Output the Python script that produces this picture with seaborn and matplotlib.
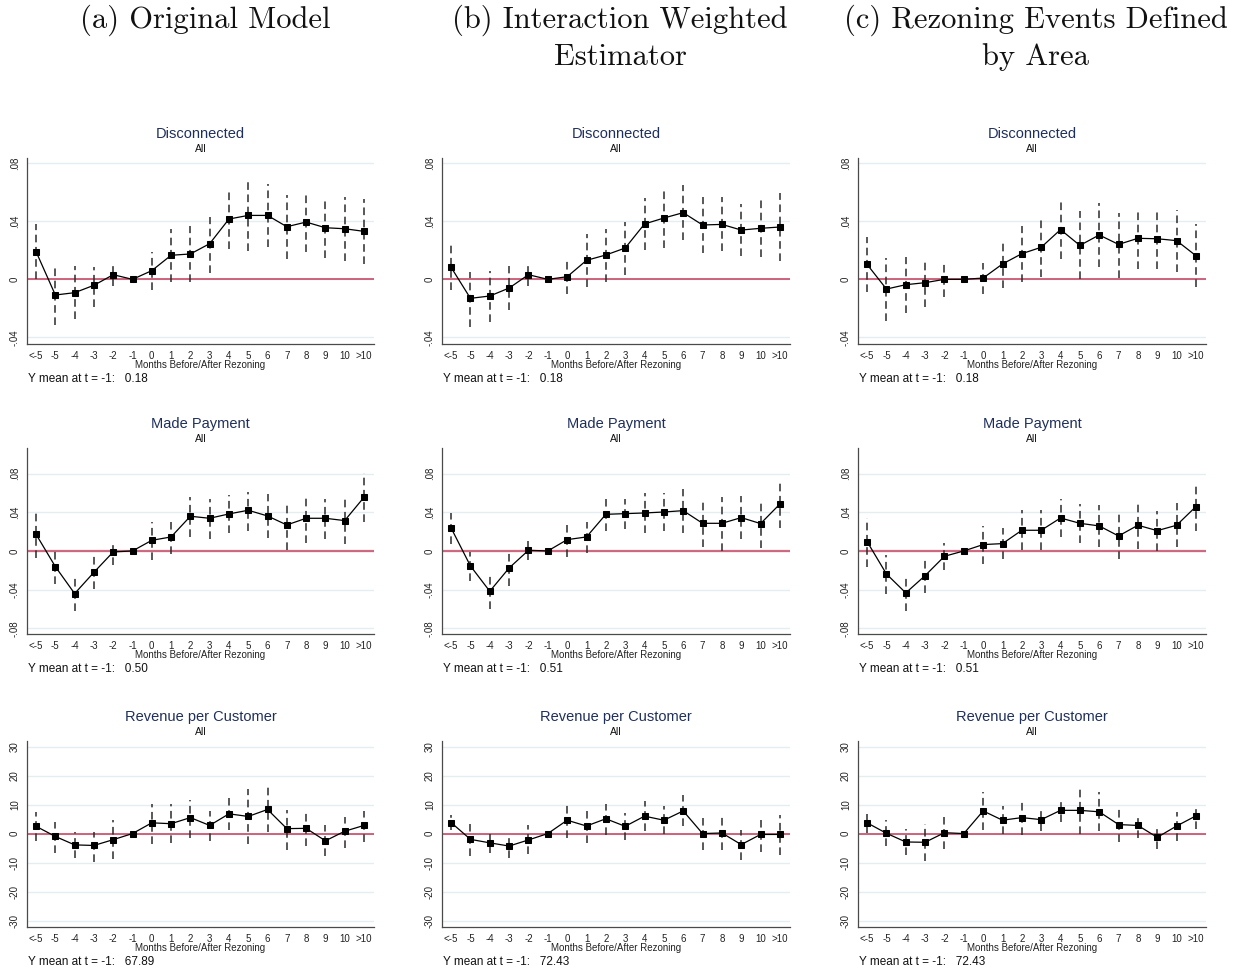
import numpy as np
import pandas as pd
import matplotlib
matplotlib.use("Agg")
import matplotlib.pyplot as plt
import seaborn as sns

# ---------------- data ----------------
periods = ["<-5", "-5", "-4", "-3", "-2", "-1", "0", "1", "2", "3", "4",
           "5", "6", "7", "8", "9", "10", ">10"]

col_titles = [["(a) Original Model"],
              ["(b) Interaction Weighted", "Estimator"],
              ["(c) Rezoning Events Defined", "by Area"]]
row_titles = ["Disconnected", "Made Payment", "Revenue per Customer"]
ymeans = [["0.18", "0.50", "67.89"],
          ["0.18", "0.51", "72.43"],
          ["0.18", "0.51", "72.43"]]

# Disconnected
disc_a = [.0191, -.0108, -.0092, -.0041, .0032, 0, .0060, .0166, .0175, .0246, .0416, .0441, .0441, .0363, .0395, .0356, .0349, .0331]
disc_a_hi = [.0382, .0099, .0092, .0087, .0110, np.nan, .0191, .0349, .0368, .0432, .0621, .0685, .0657, .0584, .0602, .0570, .0566, .0552]
disc_a_lo = [0.0, -.0315, -.0276, -.0189, -.0046, np.nan, -.0074, -.0021, -.0021, .0041, .0211, .0198, .0225, .0140, .0189, .0147, .0129, .0103]

disc_b = [.0083, -.0131, -.0115, -.0060, .0032, 0, .0018, .0131, .0168, .0216, .0382, .0423, .0460, .0375, .0379, .0340, .0352, .0361]
disc_b_hi = [.0237, .0053, .0060, .0092, .0106, np.nan, .0138, .0313, .0347, .0395, .0559, .0630, .0648, .0568, .0566, .0520, .0545, .0595]
disc_b_lo = [-.0074, -.0331, -.0292, -.0211, -.0046, np.nan, -.0101, -.0051, -.0018, .0030, .0202, .0216, .0271, .0179, .0198, .0161, .0156, .0129]

disc_c = [.0103, -.0067, -.0037, -.0023, 0.0, 0, .0009, .0106, .0177, .0221, .0343, .0234, .0306, .0241, .0283, .0280, .0267, .0163]
disc_c_hi = [.0292, .0149, .0152, .0140, .0117, np.nan, .0110, .0271, .0368, .0409, .0547, .0474, .0529, .0455, .0492, .0490, .0478, .0382]
disc_c_lo = [-.0087, -.0285, -.0230, -.0189, -.0120, np.nan, -.0101, -.0062, -.0021, .0018, .0138, 0.0, .0087, .0009, .0069, .0069, .0051, -.0055]

# Made Payment
pay_a = [.0172, -.0162, -.0441, -.0221, -.0010, 0, .0110, .0145, .0359, .0338, .0383, .0421, .0362, .0269, .0338, .0338, .0314, .0555]
pay_a_hi = [.0424, .0017, -.0283, -.0048, .0090, np.nan, .0303, .0303, .0555, .0534, .0583, .0614, .0590, .0507, .0579, .0538, .0548, .0803]
pay_a_lo = [-.0076, -.0341, -.0617, -.0397, -.0145, np.nan, -.0093, -.0031, .0148, .0121, .0183, .0210, .0138, .0010, .0079, .0128, .0072, .0303]

pay_b = [.0238, -.0155, -.0417, -.0176, .0007, 0, .0117, .0145, .0379, .0386, .0393, .0403, .0417, .0286, .0286, .0345, .0283, .0486]
pay_b_hi = [.0390, -.0007, -.0231, .0003, .0100, np.nan, .0266, .0300, .0534, .0534, .0597, .0597, .0645, .0534, .0555, .0569, .0521, .0734]
pay_b_lo = [.0069, -.0307, -.0600, -.0359, -.0093, np.nan, -.0059, -.0024, .0210, .0224, .0190, .0210, .0190, .0038, 0.0, .0121, .0028, .0234]

pay_c = [.0097, -.0238, -.0434, -.0255, -.0055, 0, .0066, .0076, .0214, .0214, .0341, .0286, .0259, .0155, .0266, .0210, .0266, .0459]
pay_c_hi = [.0338, -.0041, -.0248, -.0083, .0079, np.nan, .0262, .0234, .0424, .0424, .0534, .0486, .0476, .0397, .0507, .0417, .0493, .0707]
pay_c_lo = [-.0162, -.0445, -.0617, -.0438, -.0197, np.nan, -.0134, -.0086, .0010, .0010, .0148, .0079, .0038, -.0083, .0017, 0.0, .0038, .0210]

# Revenue per Customer
rev_a = [2.5, -1.0, -3.9, -4.1, -2.1, 0, 3.7, 3.4, 5.5, 2.8, 6.8, 5.9, 8.3, 1.7, 1.8, -2.5, 0.8, 2.8]
rev_a_hi = [7.5, 4.0, 0.6, 0.7, 4.6, np.nan, 10.1, 10.1, 11.7, 7.8, 12.1, 15.5, 15.9, 8.0, 7.6, 2.8, 5.7, 7.7]
rev_a_lo = [-2.5, -6.6, -8.4, -9.9, -8.9, np.nan, -3.7, -3.4, -1.7, -2.5, 1.4, -3.7, 0.6, -5.7, -4.3, -7.6, -4.9, -2.9]

rev_b = [3.8, -2.0, -3.2, -4.3, -2.2, 0, 4.6, 2.6, 5.1, 2.5, 6.0, 4.6, 7.8, 0.0, 0.2, -3.8, -0.3, -0.3]
rev_b_hi = [6.3, 3.2, 0.0, -0.6, 2.8, np.nan, 10.8, 7.8, 10.3, 7.1, 11.3, 9.4, 13.2, 5.3, 6.1, 1.4, 4.6, 6.3]
rev_b_lo = [1.1, -7.6, -6.7, -8.3, -6.9, np.nan, -1.5, -3.2, -0.5, -2.3, 0.9, 0.0, 2.5, -5.6, -5.6, -9.2, -6.3, -7.5]

rev_c = [3.7, 0.1, -2.9, -3.0, 0.3, 0, 7.8, 4.6, 5.5, 4.8, 8.0, 8.0, 7.5, 3.1, 2.8, -1.3, 2.6, 6.1]
rev_c_hi = [6.9, 4.6, 1.7, 3.4, 5.7, np.nan, 14.3, 9.4, 11.8, 8.3, 11.8, 16.3, 14.3, 9.2, 6.3, 2.1, 7.6, 9.8]
rev_c_lo = [0.2, -4.3, -7.5, -9.4, -5.2, np.nan, 1.4, 0.0, -0.6, 0.9, 4.0, -0.2, 0.8, -2.9, -1.4, -5.2, -2.5, 1.7]

panels = [
    [(disc_a, disc_a_lo, disc_a_hi), (disc_b, disc_b_lo, disc_b_hi), (disc_c, disc_c_lo, disc_c_hi)],
    [(pay_a, pay_a_lo, pay_a_hi), (pay_b, pay_b_lo, pay_b_hi), (pay_c, pay_c_lo, pay_c_hi)],
    [(rev_a, rev_a_lo, rev_a_hi), (rev_b, rev_b_lo, rev_b_hi), (rev_c, rev_c_lo, rev_c_hi)],
]

ytick_vals = [[-0.04, 0, 0.04, 0.08],
              [-0.08, -0.04, 0, 0.04, 0.08],
              [-30, -20, -10, 0, 10, 20, 30]]
ytick_labs = [["-.04", "0", ".04", ".08"],
              ["-.08", "-.04", "0", ".04", ".08"],
              ["-30", "-20", "-10", "0", "10", "20", "30"]]

# ---------------- layout / style ----------------
sns.set_style("white")
plt.rcParams["font.family"] = ["Liberation Sans", "DejaVu Sans"]

W, H = 1242, 971
fig = plt.figure(figsize=(W / 100, H / 100), dpi=100)
fig.patch.set_facecolor("white")

col_lr = [(27, 374), (442, 790), (858, 1206)]
row_tb = [(158, 344), (448, 634), (741, 927)]
ylims = [(-0.0446, 0.0837), (-0.0859, 0.1065), (-32.2, 31.9)]

title_col = "#1f2f5c"
red = "#c43a5a"
axis_col = "#4a4a4a"


def fx(px):
    return px / W


def fy(py):
    return 1 - py / H


x_idx = np.arange(len(periods))

for r in range(3):
    t, b = row_tb[r]
    for c in range(3):
        l, rr = col_lr[c]
        ax = fig.add_axes([fx(l), fy(b), (rr - l) / W, (b - t) / H])
        est, lo, hi = panels[r][c]
        df = pd.DataFrame({"period": x_idx, "est": est})

        ax.set_axisbelow(True)
        ax.yaxis.grid(True, color="#e4eef0", lw=1.0)
        ax.xaxis.grid(False)
        ax.axhline(0, color=red, lw=1.6 if r == 1 else 1.1, zorder=1,
                   alpha=0.75 if r == 1 else 1.0)
        ax.vlines(x_idx, lo, hi, colors="#2b2b2b", lw=1.1,
                  linestyles=(0, (5, 3)), zorder=2)
        sns.lineplot(data=df, x="period", y="est", ax=ax, color="black",
                     lw=0.9, marker="s", markersize=5,
                     markeredgecolor="black", markerfacecolor="black",
                     zorder=3, legend=False)

        ax.set_xlim(-0.47, 17.52)
        ax.set_ylim(*ylims[r])
        ax.set_xticks(x_idx)
        ax.set_xticklabels(periods, fontsize=7)
        ax.set_yticks(ytick_vals[r])
        ax.set_yticklabels(ytick_labs[r], fontsize=7, rotation=90, va="center")
        ax.set_xlabel("")
        ax.set_ylabel("")
        for s in ["top", "right"]:
            ax.spines[s].set_visible(False)
        for s in ["left", "bottom"]:
            ax.spines[s].set_color(axis_col)
            ax.spines[s].set_linewidth(0.9)
        ax.tick_params(direction="out", length=3, width=0.8, color=axis_col,
                       pad=2, labelcolor="#222222")

        cx = (l + rr) / 2
        fig.text(fx(cx), fy(t - 24), row_titles[r], ha="center", va="center",
                 fontsize=10.5, color=title_col)
        fig.text(fx(cx), fy(t - 9), "All", ha="center", va="center",
                 fontsize=7.5, color="#111111")
        fig.text(fx(cx), fy(b + 21), "Months Before/After Rezoning",
                 ha="center", va="center", fontsize=7, color="#222222")
        fig.text(fx(l + 1), fy(b + 35), "Y mean at t = -1:   " + ymeans[c][r],
                 ha="left", va="center", fontsize=8.5, color="#111111")

# column headers (LaTeX-like serif)
col_centers = [205, 620, 1036]
for c in range(3):
    for i, line in enumerate(col_titles[c]):
        fig.text(fx(col_centers[c]), fy(20 + 37 * i), line, ha="center",
                 va="center", fontsize=22, family=["cmr10", "DejaVu Serif"],
                 color="#111111")

fig.savefig("out.png", dpi=100, facecolor="white")
